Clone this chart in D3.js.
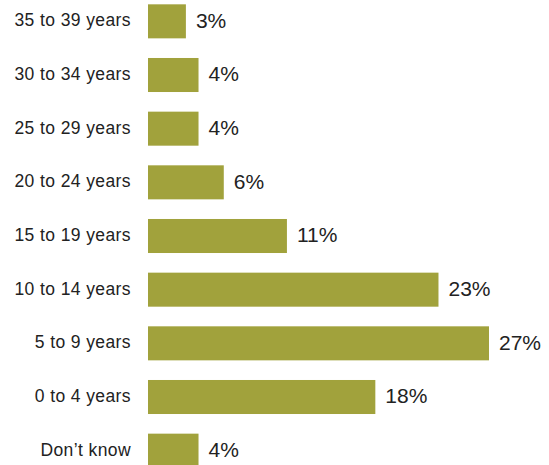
<!DOCTYPE html>
<html><head><meta charset="utf-8">
<script src="https://cdn.jsdelivr.net/npm/d3@7"></script>
<style>body{margin:0;background:#fff}svg{display:block}</style>
</head><body>
<svg id="c" width="549" height="465"></svg>
<script>
const categories = ["35 to 39 years","30 to 34 years","25 to 29 years","20 to 24 years","15 to 19 years","10 to 14 years","5 to 9 years","0 to 4 years","Don\u2019t know"];
const values = [3,4,4,6,11,23,27,18,4];
const valueLabels = ["3%","4%","4%","6%","11%","23%","27%","18%","4%"];

const svg = d3.select("#c");
const x = d3.scaleLinear().domain([0,27]).range([148,489]);
const y = d3.scaleBand().domain(categories).range([-5.5,477.5]).paddingInner(0.366).paddingOuter(0.183);

svg.selectAll("rect.bar").data(categories).join("rect")
  .attr("class","bar")
  .attr("x",x(0))
  .attr("y",d=>y(d))
  .attr("width",(d,i)=>x(values[i])-x(0))
  .attr("height",y.bandwidth())
  .attr("fill","#a1a23c");

svg.selectAll("text.cat").data(categories).join("text")
  .attr("class","cat")
  .attr("x",131)
  .attr("y",d=>y(d)+y.bandwidth()/2 - 1)
  .attr("dy","0.35em")
  .attr("text-anchor","end")
  .attr("font-family","Liberation Sans, Arial, sans-serif")
  .attr("font-size",17.5)
  .attr("letter-spacing","0.4px")
  .attr("fill","#222")
  .text(d=>d);

svg.selectAll("text.val").data(categories).join("text")
  .attr("class","val")
  .attr("x",(d,i)=>x(values[i])+10)
  .attr("y",d=>y(d)+y.bandwidth()/2 - 1)
  .attr("dy","0.35em")
  .attr("font-family","Liberation Sans, Arial, sans-serif")
  .attr("font-size",21)
  .attr("fill","#222")
  .text((d,i)=>valueLabels[i]);
</script>
</body></html>
